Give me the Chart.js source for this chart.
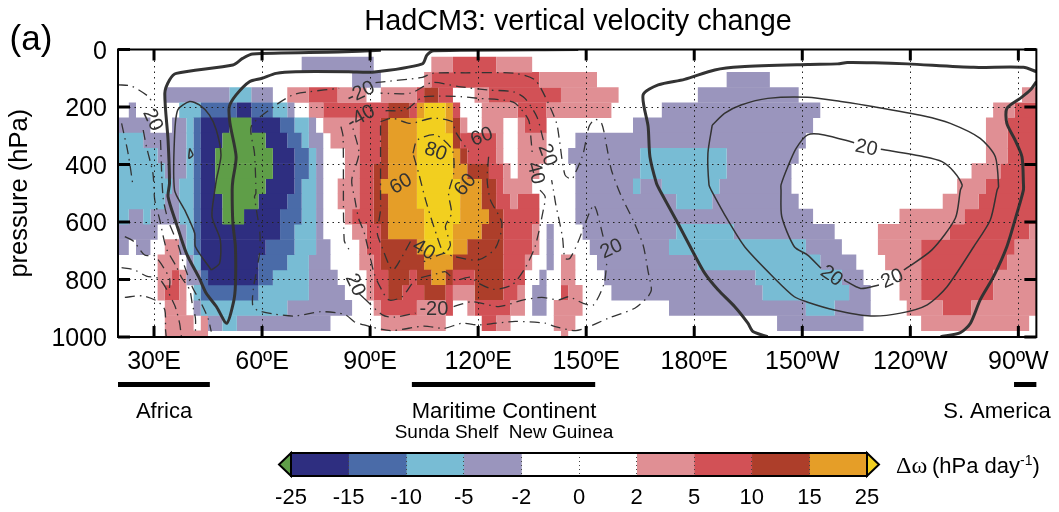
<!DOCTYPE html>
<html lang="en">
<head>
<meta charset="UTF-8">
<title>HadCM3: vertical velocity change</title>
<script src="https://cdn.jsdelivr.net/npm/chart.js"></script>
<style>
    body { margin: 0; background: #fff; }
    #wrap { position: relative; width: 1059px; height: 512px; overflow: hidden; }
    canvas { position: absolute; left: 0; }
</style>
</head>
<body>
<div id="wrap">
    <canvas id="omegaChart" width="1059" height="445" style="top:0"></canvas>
    <canvas id="barChart" width="1059" height="67" style="top:445px"></canvas>
</div>
<script>
// colour classes of the shaded change
const G = 0, N = 1, B = 2, C = 3, P = 4, p = 5, r = 6, b = 7, o = 8, y = 9;
const classColours = ['#5f9e48', '#2e2e80', '#4a6ba8', '#78bcd4', '#9a95bd', '#e08f94', '#d25156', '#ad3e2a', '#e59e28', '#f2cf1f'];

// pressure at the middle of each model level, hPa
const levelCentres = [52.5, 105.4, 158.3, 211.2, 264.1, 317, 369.9, 422.8, 475.7, 528.6, 581.5, 634.4, 687.3, 740.2, 793.1, 846, 898.9, 951.8, 1004.7];

// runs on each level: [lon start, lon end, class], lon in degrees east
const row0 = [[71,91,P],[107,113,p],[113,125,r],[125,135,p]];
const row1 = [[85,93,P],[105,107,p],[107,137,r],[137,153,p],[189,201,P]];
const row2 = [[33,51,P],[51,57,C],[57,63,P],[67,73,p],[73,81,r],[81,89,p],[93,103,p],[103,105,r],[105,109,b],[109,113,r],[119,123,p],[123,143,r],[143,159,p],[181,209,P],[271,275,p]];
const row3 = [[23,25,P],[37,43,C],[43,53,B],[53,57,N],[57,63,B],[63,67,C],[67,69,P],[73,77,p],[77,95,r],[95,101,b],[101,103,r],[103,105,o],[105,111,y],[111,113,o],[113,115,r],[121,131,p],[131,139,r],[139,157,p],[171,215,P],[263,269,p],[269,275,r]];
const row4 = [[20,29,P],[35,39,P],[39,41,C],[41,43,B],[43,51,N],[51,57,G],[57,65,N],[65,69,B],[69,73,C],[73,75,P],[77,87,p],[87,93,r],[93,95,b],[95,103,o],[103,111,y],[111,113,o],[113,115,b],[115,117,p],[121,127,p],[131,133,p],[133,139,r],[163,213,P],[261,267,p],[267,275,r]];
const row5 = [[20,27,C],[27,39,P],[39,41,C],[41,43,B],[43,49,N],[49,61,G],[61,67,N],[67,71,B],[71,73,C],[73,77,P],[79,87,p],[87,93,r],[93,95,b],[95,103,o],[103,113,y],[113,115,b],[115,125,r],[125,127,p],[131,139,p],[147,211,P],[261,267,p],[267,275,r]];
const row6 = [[20,31,C],[31,39,P],[39,41,C],[41,43,B],[43,47,N],[47,63,G],[63,69,N],[69,73,B],[73,75,C],[75,77,P],[83,87,p],[87,93,r],[93,95,b],[95,103,o],[103,113,y],[113,115,o],[115,117,b],[117,125,r],[125,127,p],[131,139,p],[145,165,P],[165,189,C],[189,209,P],[261,267,p],[267,275,r]];
const row7 = [[20,33,C],[33,39,P],[39,41,C],[41,43,B],[43,47,N],[47,63,G],[63,69,N],[69,73,B],[73,75,C],[75,77,P],[83,87,p],[87,91,r],[91,95,b],[95,103,o],[103,113,y],[113,117,o],[117,123,b],[123,127,r],[127,129,p],[131,137,p],[147,165,P],[165,189,C],[189,207,P],[257,265,p],[265,275,r]];
const row8 = [[20,35,C],[35,37,P],[37,41,C],[41,43,B],[43,47,N],[47,61,G],[61,69,N],[69,71,B],[71,75,C],[75,77,P],[81,87,p],[87,91,r],[91,93,b],[93,103,o],[103,115,y],[115,121,o],[121,125,b],[125,127,r],[127,135,p],[147,163,P],[163,165,C],[165,171,P],[171,187,C],[187,207,P],[253,261,p],[261,275,r]];
const row9 = [[20,33,C],[33,37,P],[37,41,C],[41,43,B],[43,49,N],[49,59,G],[59,67,N],[67,71,B],[71,75,C],[75,77,P],[81,87,p],[87,91,r],[91,95,b],[95,103,o],[103,115,y],[115,121,o],[121,125,b],[125,129,r],[129,131,p],[131,137,r],[147,175,P],[175,185,C],[185,209,P],[249,259,p],[259,275,r]];
const row10 = [[20,23,C],[23,27,P],[27,29,C],[29,37,P],[37,41,C],[41,43,B],[43,49,N],[49,55,G],[55,65,N],[65,71,B],[71,75,C],[75,77,P],[83,85,p],[85,91,r],[91,95,b],[95,105,o],[105,115,y],[115,123,o],[123,127,b],[127,137,r],[147,213,P],[237,255,p],[255,275,r]];
const row11 = [[20,31,P],[37,39,P],[39,41,C],[41,43,B],[43,65,N],[65,69,B],[69,75,C],[75,77,P],[85,89,p],[89,93,r],[93,95,b],[95,105,o],[105,113,y],[113,121,o],[121,127,b],[127,135,r],[135,137,p],[139,141,P],[149,175,P],[175,191,C],[191,219,P],[231,251,p],[251,273,r],[273,275,p]];
const row12 = [[20,23,P],[25,29,P],[33,37,p],[37,39,P],[39,41,C],[41,43,B],[43,61,N],[61,69,B],[69,75,C],[75,79,P],[87,89,p],[89,93,r],[93,103,b],[103,105,o],[105,113,y],[113,117,o],[117,127,b],[127,135,r],[135,137,p],[139,141,P],[151,173,P],[173,211,C],[211,221,P],[231,243,p],[243,269,r],[269,275,p]];
const row13 = [[31,37,p],[39,41,P],[41,43,C],[43,59,N],[59,67,B],[67,73,C],[73,79,P],[87,91,p],[91,93,r],[93,105,b],[105,113,o],[113,127,b],[127,133,r],[133,135,p],[139,141,P],[143,147,p],[153,181,P],[181,215,C],[215,225,P],[233,243,p],[243,267,r],[267,275,p]];
const row14 = [[31,35,p],[35,37,r],[37,39,p],[39,43,P],[43,45,B],[45,59,N],[59,63,B],[63,73,C],[73,81,P],[89,91,p],[91,95,r],[95,101,b],[101,103,r],[103,107,b],[107,111,o],[111,113,b],[113,119,r],[119,127,b],[127,133,r],[137,139,P],[143,147,p],[155,197,P],[197,221,C],[221,227,P],[237,243,p],[243,263,r],[263,275,p]];
const row15 = [[31,33,p],[33,37,r],[37,39,p],[41,43,C],[43,59,B],[59,73,C],[73,83,P],[89,91,p],[91,95,r],[95,99,b],[99,105,r],[105,111,b],[111,113,r],[113,119,p],[119,127,b],[127,131,r],[131,133,p],[135,139,P],[143,145,r],[145,149,p],[157,199,P],[199,223,C],[223,229,P],[237,243,p],[243,263,r],[263,275,p]];
const row16 = [[33,39,p],[41,43,P],[43,67,C],[67,85,P],[91,93,p],[93,103,r],[103,111,p],[111,113,r],[117,119,p],[119,129,r],[129,133,p],[135,139,P],[141,149,p],[173,211,P],[211,219,C],[219,229,P],[239,249,p],[249,257,r],[257,275,p]];
const row17 = [[33,41,p],[43,45,p],[45,49,P],[49,53,C],[53,79,P],[93,111,p],[121,125,r],[125,129,p],[141,147,p],[203,227,P],[243,273,p]];
const row18 = [[33,45,p],[143,145,p]];
const levelRuns = [row0,row1,row2,row3,row4,row5,row6,row7,row8,row9,row10,row11,row12,row13,row14,row15,row16,row17,row18];

// zero contours [lon, hPa], null is a break in the line
const zeroAfrica = [[93,3],[81,9],[57.4,16],[54.6,31],[51.9,54],[36.2,83],[34.3,106],[33,152],[33.9,315],[34.3,465],[33.9,512],[36.2,605],[39,709],[42.6,796],[44.5,848],[47.3,894],[50.2,952],[52.1,877],[52.6,819],[52.6,686],[51.9,605],[51.7,489],[51.9,454],[52.8,373],[51.1,257],[50.9,199],[52.8,158],[56.5,112],[60,100],[63.9,83],[69.4,77],[84,77],[90.6,79],[104.5,50],[105.8,19],[107.7,4],[147.8,0]];
const zeroPacific = [[200.4,999],[196.3,981],[194.9,952],[191.2,894],[186.6,836],[182.9,778],[180.1,715],[175.5,605],[170.4,489],[169.5,465],[167.7,373],[167.2,268],[165.8,158],[170,123],[177.3,104],[185.7,71],[193,60],[211.5,52],[219.8,50],[222.5,45],[229.9,46],[239.2,50],[257.6,62],[271.4,62],[275,77]];
const zeroAmerica = [[275,112],[273.3,141],[270.5,170],[266.8,205],[266.8,257],[269.1,315],[271,373],[271.4,465],[271.4,489],[269.6,570],[266.8,686],[263.1,790],[259.4,871],[256.7,952],[253.9,985],[248.4,999]];

// +20 contours
const posAfrica = [[45.9,767],[41.5,686],[41.3,639],[38.5,558],[35.7,489],[35.7,303],[36.6,210],[39.9,181],[42.6,193],[45.4,228],[47.3,280],[48.6,367],[47.3,454],[46.9,489],[46.1,581],[48.4,662],[48.2,744],[45.9,767]];
const posAfricaSmall = [[39.9,344],[40.8,367],[39.7,378],[39.9,344]];
const posPacificOuter = [[185,263],[188.4,222],[193,193],[200.4,170],[211.5,166],[220.7,181],[229.9,199],[243.8,231],[251.1,257],[259.4,309],[263.6,373],[264.5,477],[264.1,489],[262.2,593],[257.6,686],[250.2,825],[244.7,888],[237.3,917],[229,927],[218.9,906],[211.5,879],[207.8,860],[202.3,796],[194,686],[189.3,593],[184.7,489],[184.1,471],[183.8,361],[185,263]];
const posPacificInner = [[224.4,324],[216.1,297],[211.5,297],[208.3,344],[206,407],[204.1,471],[204.1,489],[204.3,581],[207.8,686],[211.5,715],[215.2,761],null,[221.6,802],[226.2,831],[231.3,819],null,[238.2,767],[246,697],[252.5,587],[253.9,489],[254.4,471],[252.1,425],[248.8,390],[243.8,373],[231.8,347]];

// negative contours, dash-dot
const negOuter = [[85.6,947],[83.2,923],[81.4,917],[76.3,912],[68.9,927],[63.4,920],[58.8,908],[57.4,889],[57.6,831],[59.3,709],[59.4,639],[57.9,512],[58.3,500],[57.9,361],[57,268],[62.5,205],[68.5,158],[73.1,147],[81.4,135],null,[91.5,115],[104.5,97],[107.2,83],[116.5,81],[130.3,83],[135.8,106],[139.5,187],[141.8,257],[142.5,309],[144.1,436],[146,451],[146.9,431],[147.8,407],[149.2,361],[150.8,268],[152.4,243],[154.3,257],[155.7,338],[157,419],[159.6,506],[163,593],[165.8,680],[167.2,773],[168.1,836],[167,862],[163.5,900],[156.1,935],[149.7,970],[146.9,978],[141.4,964],[138.6,952],[130.3,946],[120.1,958],[115.5,952],[110.5,970],[104.9,962],[95.7,978],[88.3,958],[85.6,947]];
const negSecond = [[88.3,865],[93.4,923],[96.6,931],[102.6,917],null,[113.2,894],[118.3,877],[125.7,894],[132.6,871],[137.7,862],[142.3,871],[145.1,860],[149.2,883],[152,889],[155,813],[155.7,744],null,[154.7,651],[152.9,561],[152,541],[149.7,605],[147.8,668],[145.5,726],[144.1,726],[143.4,651],[141.5,535],[140.9,489],[140.4,454],null,[138.1,315],[136.3,234],[133,170],[129.8,147],[122.9,141],[114.6,129],[107.2,115],[101.2,152],[92.9,152],null,[81.9,268],[82.5,303],[82.8,663],[84.2,697],null,[87,850],[88.3,865]];
const negThird = [[94.3,213],[99.8,210],[104.5,166],[109.1,162],[115.1,164],[120.1,170],[127.1,176],[130.3,187],[134,245],[134.7,315],[135.1,373],null,[137.2,489],[138.6,512],[138.1,558],[135.8,686],[133,761],[129.4,819],[124.3,834],[120.1,813],[117.8,792],[113.7,802],[110.9,773],[109.1,778],[102.6,802],[98.9,860],[95.2,871],[92.5,819],[91.1,778],[90.2,732],[89.2,680],[88.3,634],[86.8,587],[85.8,523],[84.9,454],[86.9,361],[85.1,268]];
const negFourth = [[92.9,251],[96.2,239],[101.2,257],[107.2,239],[112.8,251],[113.7,286],[117.4,355],null,[122.9,373],[122.5,454],[123.4,523],[126.6,605],[124.8,691],[120.1,732],[113.2,720],[110.5,709],[104.9,738],null,[101.2,668],[98.9,720],[96.2,767],[92.9,674],[92,639],[92.9,558],[92.9,512],[92.9,315],[92.9,251]];
const negInner = [[101.9,361],[103.1,315],[108.2,297],[112.8,349],[113.2,431],[111.8,500],[112.6,570],[110.9,616],[112.3,680],[110.5,709],[107.7,616],[105.4,523],[103.5,431],[101.9,361]];
const negAfrica1 = [[20,123],[23.7,127],[28.3,162],[29.7,187],null,[31.8,315],[32.5,512],[33.9,593],[36.7,680],[38.2,744],[40.6,825],[43.1,883],[45,935],[45.9,981]];
const negAfrica2 = [[27,280],[27.9,338],[29.7,431],[30.2,523],[31.6,593],[33.4,691],[36.2,755],[37.6,792],[39.9,836],[40.6,883],[41.5,935],[41.5,981]];
const negAfrica3 = [[21,257],[22.8,361],[24.2,477]];
const negAfrica4 = [[21.9,651],[24.4,668],[27.4,715],[30.2,718],[34.3,796],[34.2,842]];
const negAfrica5 = [[21,759],[24.2,765],[27.9,788],[31.6,799],[35.7,889],[37.1,952],[37.6,999]];
const negAfrica6 = [[21.9,862],[27,857],[31.1,877],[33,906],[33.2,975],[33.4,999]];

// contour labels: text, lon, hPa, rotation in degrees
const contourLabels = [
    ['-20',87.4,150,-25],['-40',87.5,235,-30],['60',121,304,-20],['80',108.2,356,20],
    ['60',98.6,468,-30],['60',116.5,471,-50],['20',139.2,367,70],['40',135.9,430,75],
    ['40',104.9,697,30],['20',85.8,819,65],['-20',107.7,906,0],['20',29.6,245,65],
    ['20',157,694,-25],['20',227.8,343,12],['20',218.1,788,35],['20',235,798,-25]
];

const lonTicks = [30,60,90,120,150,180,210,240,270];
const lonLabels = ['30ºE','60ºE','90ºE','120ºE','150ºE','180ºE','150ºW','120ºW','90ºW'];
const pressureTicks = [0,200,400,600,800,1000];

// region bars under the axis, lon start and end
const regionBars = [[20,45.5],[101.6,152.5],[268.8,275]];

const barColours = ['#2e2e80', '#4a6ba8', '#78bcd4', '#9a95bd', '#ffffff', '#ffffff', '#e08f94', '#d25156', '#ad3e2a', '#e59e28'];
const barLabels = ['-25','-15','-10','-5','-2','0','2','5','10','15','25'];

const sans = "'Liberation Sans', Arial, sans-serif";

function buildCellDatasets() {
    return classColours.map((colour, cls) => {
        const cells = [];
        levelRuns.forEach((runs, i) => {
            runs.forEach(run => {
                if (run[2] === cls) cells.push({ x: [run[0], run[1]], y: levelCentres[i] });
            });
        });
        return {
            type: 'bar', indexAxis: 'y', data: cells, backgroundColor: colour, borderWidth: 0,
            grouped: false, barPercentage: 1.03, categoryPercentage: 1, order: 2
        };
    });
}

function lineDataset(points, width, dash) {
    return {
        type: 'scatter', indexAxis: 'x', showLine: true, fill: false, order: 1,
        data: points.map(q => q ? { x: q[0], y: q[1] } : { x: NaN, y: NaN }),
        borderColor: '#333', borderWidth: width, borderDash: dash || [],
        pointRadius: 0, tension: 0.25, spanGaps: false
    };
}

const dashDot = [10, 5, 1.5, 5];

const frameAndText = {
    id: 'frameAndText',
    afterDraw(chart) {
        const ctx = chart.ctx, area = chart.chartArea, sx = chart.scales.x, sy = chart.scales.y;
        ctx.save();
        ctx.strokeStyle = '#000';

        // thick inward ticks
        ctx.lineWidth = 3;
        ctx.beginPath();
        lonTicks.forEach(v => {
            const px = sx.getPixelForValue(v);
            ctx.moveTo(px, area.top); ctx.lineTo(px, area.top + 11);
            ctx.moveTo(px, area.bottom); ctx.lineTo(px, area.bottom - 11);
        });
        pressureTicks.forEach(v => {
            const py = sy.getPixelForValue(v);
            ctx.moveTo(area.left, py); ctx.lineTo(area.left + 12, py);
            ctx.moveTo(area.right, py); ctx.lineTo(area.right - 12, py);
        });
        ctx.stroke();

        ctx.lineWidth = 2;
        ctx.strokeRect(area.left, area.top, area.right - area.left, area.bottom - area.top);

        // contour labels
        ctx.fillStyle = '#333';
        ctx.font = '20px ' + sans;
        ctx.textAlign = 'center';
        ctx.textBaseline = 'middle';
        contourLabels.forEach(l => {
            ctx.save();
            ctx.translate(sx.getPixelForValue(l[1]), sy.getPixelForValue(l[2]));
            ctx.rotate(l[3] * Math.PI / 180);
            ctx.fillText(l[0], 0, 0);
            ctx.restore();
        });

        // region bars
        ctx.fillStyle = '#000';
        regionBars.forEach(s => {
            const x0 = sx.getPixelForValue(s[0]), x1 = sx.getPixelForValue(s[1]);
            ctx.fillRect(x0, 382, x1 - x0, 5);
        });

        ctx.textBaseline = 'alphabetic';
        ctx.font = '28.8px ' + sans;
        ctx.fillText('HadCM3: vertical velocity change', 578, 30);
        ctx.font = '35px ' + sans;
        ctx.fillText('(a)', 31, 50);
        ctx.font = '22px ' + sans;
        ctx.fillText('Africa', 164, 418);
        ctx.fillText('Maritime Continent', 504, 418);
        ctx.fillText('S. America', 997, 418);
        ctx.font = '19px ' + sans;
        ctx.fillText('Sunda Shelf  New Guinea', 504, 438);
        ctx.restore();
    }
};

new Chart(document.getElementById('omegaChart'), {
    type: 'bar',
    data: {
        datasets: buildCellDatasets().concat([
            lineDataset(zeroAfrica, 3), lineDataset(zeroPacific, 3), lineDataset(zeroAmerica, 3),
            lineDataset(posAfrica, 1.5), lineDataset(posAfricaSmall, 1.5),
            lineDataset(posPacificOuter, 1.5), lineDataset(posPacificInner, 1.5),
            lineDataset(negOuter, 1.3, dashDot), lineDataset(negSecond, 1.3, dashDot),
            lineDataset(negThird, 1.3, dashDot), lineDataset(negFourth, 1.3, dashDot),
            lineDataset(negInner, 1.3, dashDot), lineDataset(negAfrica1, 1.3, dashDot),
            lineDataset(negAfrica2, 1.3, dashDot), lineDataset(negAfrica3, 1.3, dashDot),
            lineDataset(negAfrica4, 1.3, dashDot), lineDataset(negAfrica5, 1.3, dashDot),
            lineDataset(negAfrica6, 1.3, dashDot)
        ])
    },
    options: {
        responsive: false,
        animation: false,
        indexAxis: 'y',
        layout: { padding: { top: 49.5, right: 19, left: 0, bottom: 0 } },
        plugins: { legend: { display: false }, tooltip: { enabled: false } },
        scales: {
            x: {
                type: 'linear', position: 'bottom', min: 20, max: 275, offset: false,
                afterBuildTicks: s => { s.ticks = lonTicks.map(v => ({ value: v })); },
                afterFit: s => { s.height = 108; },
                grid: { z: 1, color: '#222', lineWidth: 1, drawTicks: false, offset: false },
                border: { display: false, dash: [1.5, 4] },
                ticks: {
                    autoSkip: false, maxRotation: 0, padding: 10, color: '#000',
                    font: { family: sans, size: 25 },
                    callback: (v, i) => lonLabels[i]
                }
            },
            y: {
                type: 'linear', position: 'left', reverse: true, min: 0, max: 1000, offset: false,
                afterBuildTicks: s => { s.ticks = pressureTicks.map(v => ({ value: v })); },
                afterFit: s => { s.width = 118; },
                grid: { z: 1, color: '#222', lineWidth: 1, drawTicks: false, offset: false },
                border: { display: false, dash: [1.5, 4] },
                title: { display: true, text: 'pressure (hPa)', color: '#000', font: { family: sans, size: 25.5 }, padding: { top: 5, bottom: 0 } },
                ticks: {
                    autoSkip: false, padding: 11, color: '#000', labelOffset: 2.5,
                    font: { family: sans, size: 25 },
                    callback: v => String(v)
                }
            }
        }
    },
    plugins: [frameAndText]
});

const barExtras = {
    id: 'barExtras',
    afterDraw(chart) {
        const ctx = chart.ctx, a = chart.chartArea, mid = (a.top + a.bottom) / 2;
        ctx.save();
        ctx.strokeStyle = '#000';
        ctx.lineWidth = 2;
        ctx.strokeRect(a.left, a.top, a.right - a.left, a.bottom - a.top);
        [[a.left, -12, classColours[G]], [a.right, 12, classColours[y]]].forEach(t => {
            ctx.beginPath();
            ctx.moveTo(t[0], a.top);
            ctx.lineTo(t[0] + t[1], mid);
            ctx.lineTo(t[0], a.bottom);
            ctx.closePath();
            ctx.fillStyle = t[2];
            ctx.fill();
            ctx.stroke();
        });
        ctx.fillStyle = '#000';
        ctx.textBaseline = 'alphabetic';
        ctx.font = '24px "Liberation Serif", serif';
        ctx.fillText('Δω', 896, 28);
        ctx.font = '22px ' + sans;
        ctx.fillText('(hPa day', 932, 28);
        const w = ctx.measureText('(hPa day').width;
        ctx.font = '14px ' + sans;
        ctx.fillText('-1', 932 + w, 20);
        const w2 = ctx.measureText('-1').width;
        ctx.font = '22px ' + sans;
        ctx.fillText(')', 932 + w + w2, 28);
        ctx.restore();
    }
};

new Chart(document.getElementById('barChart'), {
    type: 'bar',
    data: {
        labels: [''],
        datasets: barColours.map(c => ({
            data: [1], backgroundColor: c, borderWidth: 0, barPercentage: 1, categoryPercentage: 1, stack: 'bar'
        }))
    },
    options: {
        responsive: false,
        animation: false,
        indexAxis: 'y',
        layout: { padding: { top: 8, left: 291, right: 192, bottom: 0 } },
        plugins: { legend: { display: false }, tooltip: { enabled: false } },
        scales: {
            x: {
                type: 'linear', stacked: true, min: 0, max: 10,
                afterBuildTicks: s => { s.ticks = barLabels.map((t, i) => ({ value: i })); },
                afterFit: s => { s.height = 36; },
                grid: { z: 1, color: '#444', drawTicks: false },
                border: { display: false, dash: [1, 3] },
                ticks: {
                    autoSkip: false, maxRotation: 0, padding: 9, color: '#000',
                    font: { family: sans, size: 22 },
                    callback: (v, i) => barLabels[i]
                }
            },
            y: { stacked: true, display: false }
        }
    },
    plugins: [barExtras]
});
</script>
</body>
</html>
